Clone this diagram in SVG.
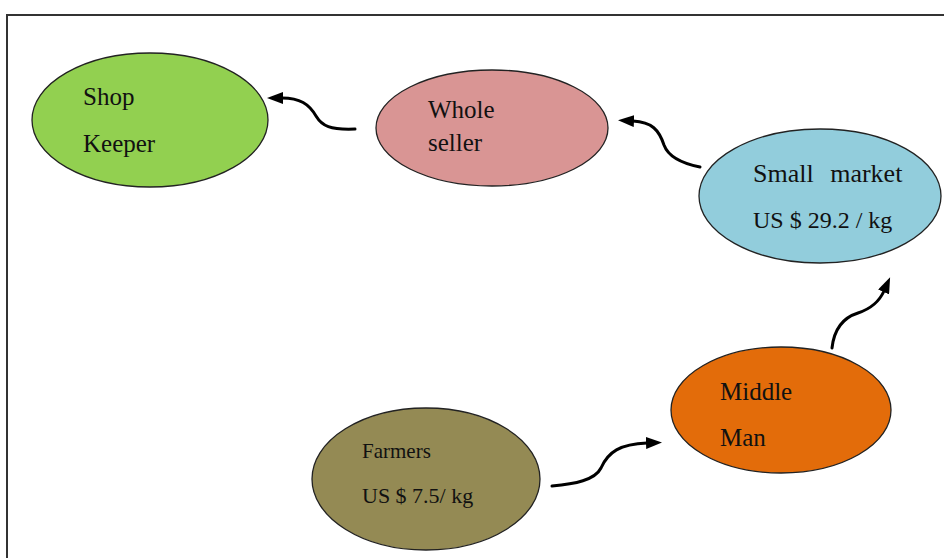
<svg xmlns="http://www.w3.org/2000/svg" width="944" height="558" viewBox="0 0 944 558">
<style>
.node{stroke:#222;stroke-width:1.3}
.lbl{font-family:"Liberation Serif","Times New Roman",serif;fill:#111}
.conn{fill:none;stroke:#000;stroke-width:3;stroke-linecap:round}
.frame{stroke:#333;stroke-width:2;fill:none}
</style>
<defs>
<marker id="ah" viewBox="0 0 16 12" refX="1" refY="6" markerWidth="16" markerHeight="12" markerUnits="userSpaceOnUse" orient="auto">
<path d="M0,0 L16,6 L0,12 z" fill="#000"/>
</marker>
</defs>
<rect width="944" height="558" fill="#fff"/>
<path class="frame" d="M7,558 L7,15 L944,15"/>
<g id="shopkeeper">
<ellipse class="node" cx="150" cy="120" rx="118" ry="67" fill="#92d050"/>
<text class="lbl" x="83" y="105" font-size="25">Shop</text>
<text class="lbl" x="83" y="152" font-size="25">Keeper</text>
</g>
<g id="wholeseller">
<ellipse class="node" cx="492" cy="128" rx="116" ry="58" fill="#d99594"/>
<text class="lbl" x="428" y="118" font-size="25">Whole</text>
<text class="lbl" x="428" y="151" font-size="25">seller</text>
</g>
<g id="smallmarket">
<ellipse class="node" cx="820" cy="196" rx="121" ry="67" fill="#92cddc"/>
<text class="lbl" x="753" y="182" font-size="26" word-spacing="10">Small market</text>
<text class="lbl" x="753" y="228" font-size="24">US $ 29.2 / kg</text>
</g>
<g id="middleman">
<ellipse class="node" cx="781" cy="410" rx="110" ry="63" fill="#e36c0a"/>
<text class="lbl" x="720" y="400" font-size="25">Middle</text>
<text class="lbl" x="720" y="446" font-size="25">Man</text>
</g>
<g id="farmers">
<ellipse class="node" cx="426" cy="479" rx="114" ry="71" fill="#948a54"/>
<text class="lbl" x="362" y="458" font-size="21">Farmers</text>
<text class="lbl" x="362" y="503" font-size="22">US $ 7.5/ kg</text>
</g>
<g id="connectors">
<path class="conn" marker-end="url(#ah)" d="M355,129 C330,130 322,126 316,116 C309,104 300,98 282,98"/>
<path class="conn" marker-end="url(#ah)" d="M700,167 C680,163 668,156 664,145 C659,130 652,122 633,121"/>
<path class="conn" marker-end="url(#ah)" d="M552,486 C575,484 595,480 601,468 C608,452 620,444 647,443"/>
<path class="conn" marker-end="url(#ah)" d="M832,348 C834,330 842,318 858,313 C873,308 880,300 884,291"/>
</g>
</svg>
